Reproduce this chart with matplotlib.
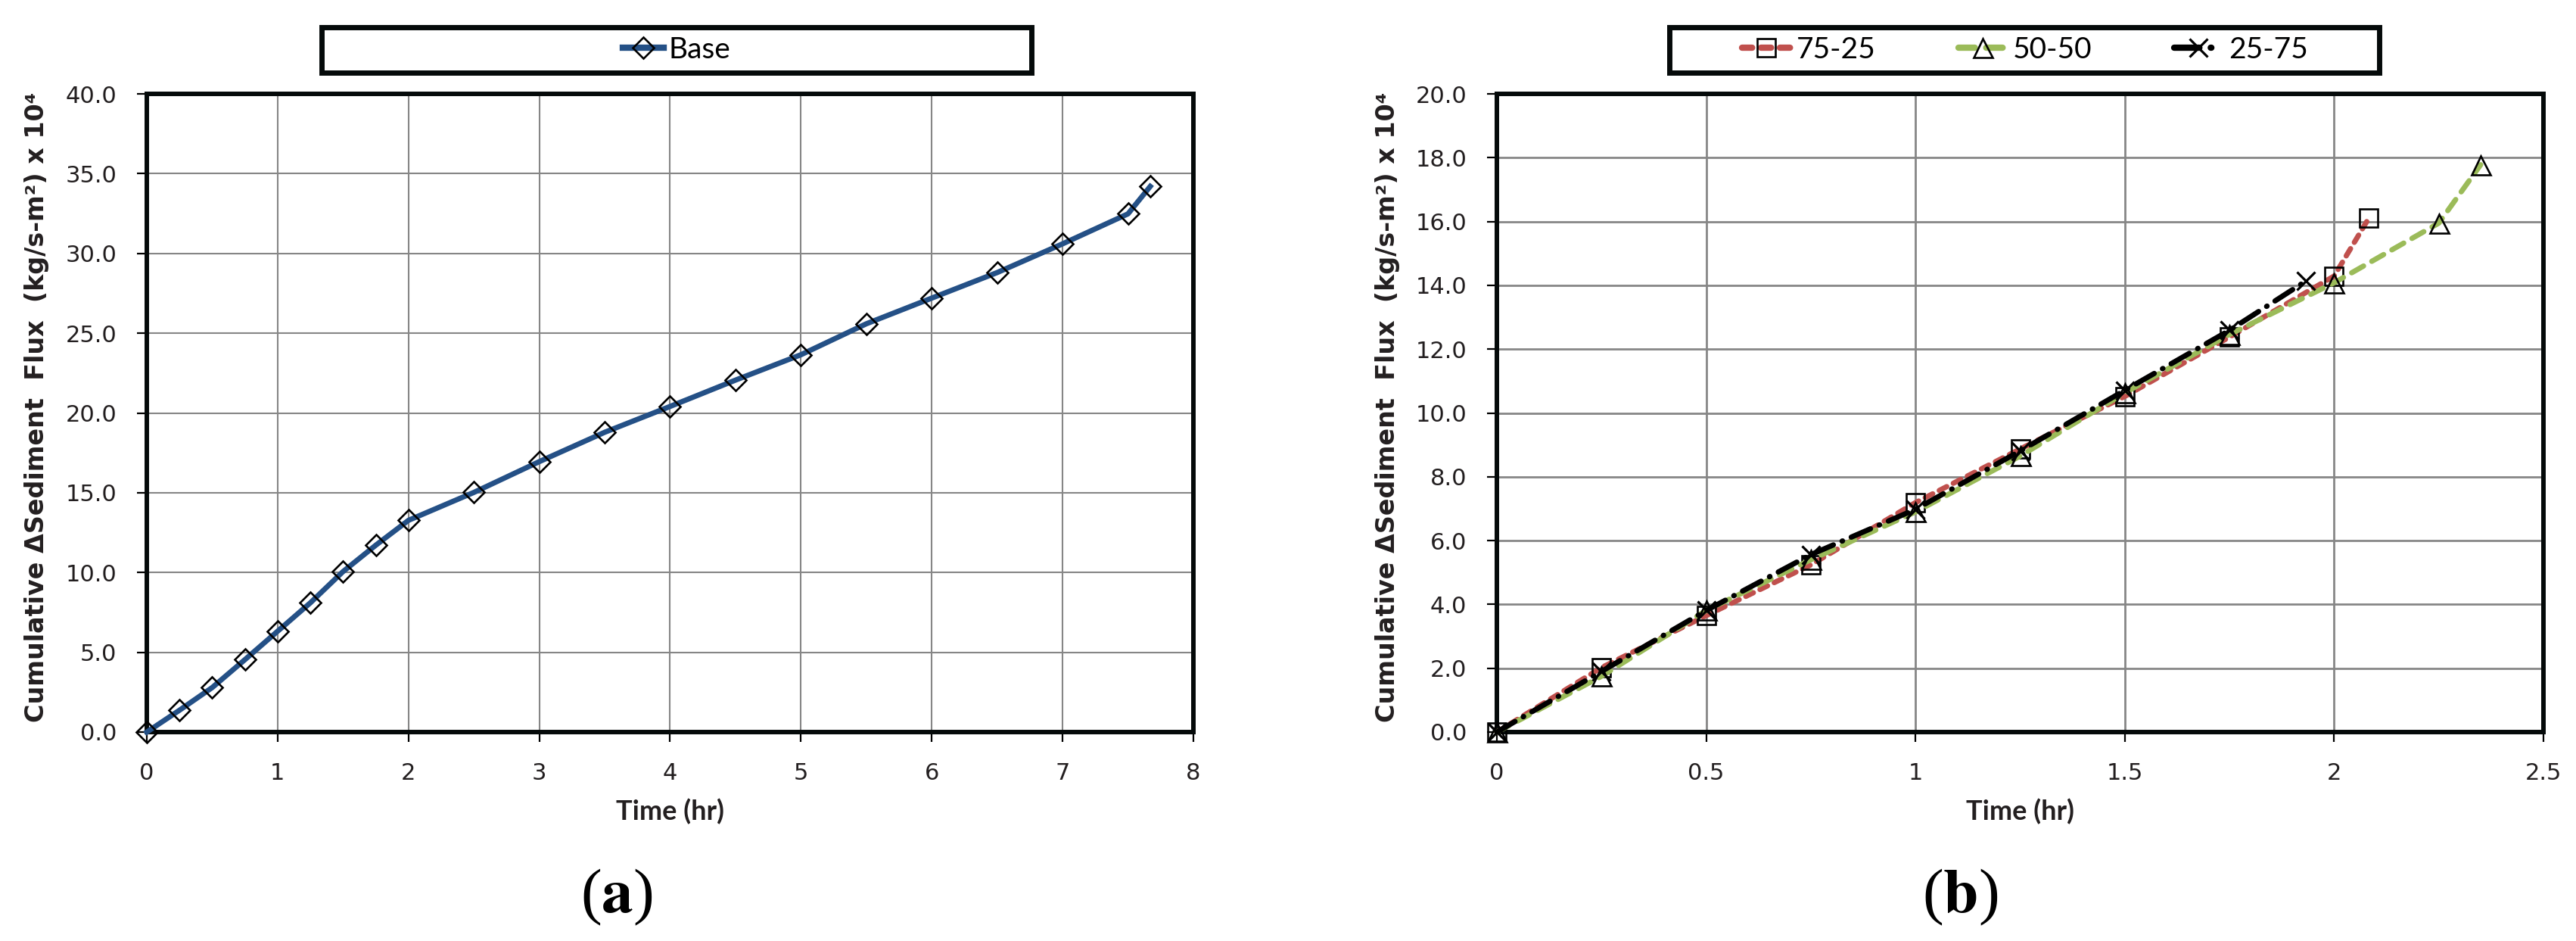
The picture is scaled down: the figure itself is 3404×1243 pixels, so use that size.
import numpy as np
import matplotlib
matplotlib.use('Agg')
import matplotlib.pyplot as plt
from matplotlib.lines import Line2D
from matplotlib.patches import Rectangle
from matplotlib.ticker import FormatStrFormatter, FuncFormatter

plt.rcParams['font.family'] = ['DejaVu Sans']
plt.rcParams['mathtext.fontset'] = 'stix'

# (a) Base run
base_t = [0, 0.25, 0.5, 0.75, 1.0, 1.25, 1.5, 1.75, 2.0, 2.5, 3.0, 3.5, 4.0,
          4.5, 5.0, 5.5, 6.0, 6.5, 7.0, 7.5, 7.67]
base_flux = [0, 1.37, 2.79, 4.54, 6.32, 8.10, 10.06, 11.71, 13.27, 15.02, 16.95,
             18.79, 20.41, 22.06, 23.65, 25.59, 27.2, 28.8, 30.6, 32.48, 34.2]

# (b) mixtures
t_7525 = [0, 0.25, 0.5, 0.75, 1.0, 1.25, 1.5, 1.75, 2.0, 2.083]
flux_7525 = [0, 2.02, 3.65, 5.24, 7.19, 8.87, 10.52, 12.38, 14.29, 16.11]
t_5050 = [0, 0.25, 0.5, 0.75, 1.0, 1.25, 1.5, 1.75, 2.0, 2.25, 2.35]
flux_5050 = [0, 1.75, 3.81, 5.4, 6.9, 8.65, 10.63, 12.46, 14.08, 15.95, 17.78]
t_2575 = [0, 0.25, 0.5, 0.75, 1.0, 1.25, 1.5, 1.75, 1.932]
flux_2575 = [0, 1.9, 3.81, 5.56, 6.98, 8.81, 10.71, 12.59, 14.13]

ylab = 'Cumulative \u0394Sediment  Flux  (kg/s-m\u00b2) x 10\u2074'

W, H = 3405, 1243
fig = plt.figure(figsize=(W / 100, H / 100), dpi=100)
ax1 = fig.add_axes([194 / W, (H - 967) / H, 1383 / W, 843 / H])
ax2 = fig.add_axes([1978 / W, (H - 967) / H, 1383 / W, 843 / H])

blue = '#245086'
red = '#C0504D'
green = '#9BBB59'
LW = 5

red_ls = (0, (1.6, 1.4))
green_ls = (0, (2.6, 1.8))
black_ls = (0, (4, 1.8, 0.1, 1.8))

ax1.plot(base_t, base_flux, color=blue, lw=LW, marker='D', ms=14,
         mfc='none', mec='black', mew=1.9, clip_on=False, zorder=5)

ax2.plot(t_7525, flux_7525, color=red, lw=LW, ls=red_ls, dash_capstyle='round',
         marker='s', ms=17, mfc='none', mec='black', mew=1.9, clip_on=False, zorder=5)
ax2.plot(t_5050, flux_5050, color=green, lw=LW, ls=green_ls, dash_capstyle='round',
         marker='^', ms=18, mfc='none', mec='black', mew=1.9, clip_on=False, zorder=6)
ax2.plot(t_2575, flux_2575, color='black', lw=LW, ls=black_ls, dash_capstyle='round',
         marker='x', ms=17, mec='black', mew=2.3, clip_on=False, zorder=7)

for ax, gw in ((ax1, 1.5), (ax2, 2.0)):
    for s in ax.spines.values():
        s.set_linewidth(4.3)
        s.set_color('#050a0a')
        s.set_zorder(4)
    ax.grid(True, color='#868686', lw=gw, zorder=1)
    ax.set_axisbelow(True)
    ax.tick_params(direction='out', length=9.5, width=1.6, pad=19,
                   labelsize=22, labelcolor='#231f20', top=False, right=False)
    ax.set_xlabel('Time (hr)', family='Lato', fontweight='bold', fontsize=26,
                  color='#231f20', labelpad=14)
    ax.yaxis.set_major_formatter(FormatStrFormatter('%.1f'))

ax1.set_xlim(0, 8)
ax1.set_ylim(0, 40)
ax1.set_xticks(np.arange(0, 9, 1))
ax1.set_yticks(np.arange(0, 41, 5))

ax2.set_xlim(0, 2.5)
ax2.set_ylim(0, 20)
ax2.set_xticks(np.arange(0, 2.51, 0.5))
ax2.set_yticks(np.arange(0, 21, 2))
ax2.xaxis.set_major_formatter(FuncFormatter(lambda v, p: '%g' % v))

# y labels
fig.text(49 / W, (H - 538) / H, ylab, rotation=90, ha='center', va='center',
         fontsize=24, fontweight='bold', color='#231f20')
fig.text((1978 - 145) / W, (H - 538) / H, ylab, rotation=90, ha='center', va='center',
         fontsize=24, fontweight='bold', color='#231f20')

# panel labels
fig.text(815 / W, (H - 1185) / H, r'($\mathbf{a}$)', ha='center', va='center',
         fontsize=60, family='Liberation Serif')
fig.text(2590 / W, (H - 1185) / H, r'($\mathbf{b}$)', ha='center', va='center',
         fontsize=60, family='Liberation Serif')

# legend boxes
for x0, x1 in ((425, 1363), (2206, 3144)):
    fig.patches.append(Rectangle((x0 / W, (H - 96) / H), (x1 - x0) / W, 60 / H,
                                 transform=fig.transFigure, fill=False,
                                 lw=5, ec='#050a0a'))

h1 = [Line2D([], [], color=blue, lw=LW + 1, marker='D', ms=14, mfc='none', mec='black', mew=1.9)]
fig.legend(h1, ['Base'], loc='center', bbox_to_anchor=(894 / W, (H - 66) / H),
           frameon=False, prop={'family': 'Lato', 'size': 28}, handlelength=1.4,
           handletextpad=0.15, borderpad=0)

h2 = [Line2D([], [], color=red, lw=LW + 1, ls=red_ls, dash_capstyle='round',
             marker='s', ms=17, mfc='none', mec='black', mew=1.9),
      Line2D([], [], color=green, lw=LW + 1, ls=green_ls, dash_capstyle='round',
             marker='^', ms=18, mfc='none', mec='black', mew=1.9),
      Line2D([], [], color='black', lw=LW + 1, ls=black_ls, dash_capstyle='round',
             marker='x', ms=17, mec='black', mew=2.3)]
fig.legend(h2, ['75-25', '50-50', '25-75'], loc='center', ncol=3,
           bbox_to_anchor=(2676 / W, (H - 66) / H), frameon=False,
           prop={'family': 'Lato', 'size': 28}, handlelength=1.65,
           handletextpad=0.2, columnspacing=2.8, borderpad=0)

fig.savefig('out.png', dpi=100)
